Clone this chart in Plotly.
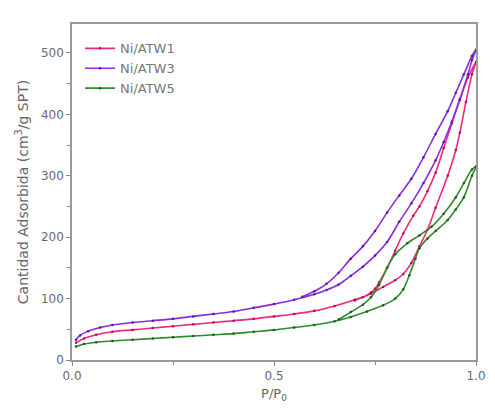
import plotly.graph_objects as go

# Ni/ATW1 (pink)
atw1_ads_x = [0.01,0.03,0.06,0.1,0.15,0.2,0.25,0.3,0.35,0.4,0.45,0.5,0.55,0.6,0.65,0.7,0.74,0.77,0.8,0.82,0.84,0.86,0.88,0.9,0.93,0.95,0.96,0.975,0.99,1.0]
atw1_ads_y = [28,35,41,46,49,52,55,58,61,64,67,71,75,80,88,98,108,119,130,140,158,185,212,248,300,342,370,420,465,485]
atw1_des_x = [0.98,0.96,0.94,0.92,0.9,0.88,0.86,0.845,0.82,0.8,0.78,0.76,0.75,0.74,0.72,0.7]
atw1_des_y = [460,423,385,345,305,275,250,235,206,178,150,126,116,110,102,97]

# Ni/ATW3 (purple)
atw3_ads_x = [0.01,0.02,0.04,0.07,0.1,0.15,0.2,0.25,0.3,0.35,0.4,0.45,0.5,0.55,0.6,0.63,0.66,0.69,0.72,0.75,0.78,0.81,0.84,0.87,0.9,0.92,0.94,0.96,0.98,0.99,1.0]
atw3_ads_y = [33,40,47,53,57,61,64,67,71,75,79,85,91,98,107,114,123,137,152,170,192,225,255,288,325,355,388,425,465,488,505]
atw3_des_x = [0.99,0.97,0.95,0.93,0.9,0.87,0.84,0.81,0.78,0.75,0.72,0.69,0.66,0.63,0.6,0.57]
atw3_des_y = [495,465,435,405,368,330,295,268,240,210,185,165,142,124,112,103]

# Ni/ATW5 (green)
atw5_ads_x = [0.01,0.03,0.06,0.1,0.15,0.2,0.25,0.3,0.35,0.4,0.45,0.5,0.55,0.6,0.65,0.69,0.73,0.77,0.8,0.82,0.835,0.85,0.86,0.88,0.9,0.93,0.95,0.97,0.99,1.0]
atw5_ads_y = [22,26,29,31,33,35,37,39,41,43,46,49,53,57,63,70,79,89,100,115,138,165,182,198,210,228,245,265,300,315]
atw5_des_x = [0.99,0.97,0.95,0.92,0.89,0.86,0.83,0.8,0.78,0.76,0.74,0.72,0.69,0.66]
atw5_des_y = [310,288,265,238,217,203,190,172,150,122,102,90,78,66]

series = [
    ("Ni/ATW1", atw1_ads_x, atw1_ads_y, atw1_des_x, atw1_des_y, "#F0287E", "#A8105A"),
    ("Ni/ATW3", atw3_ads_x, atw3_ads_y, atw3_des_x, atw3_des_y, "#8A2BE2", "#561A9E"),
    ("Ni/ATW5", atw5_ads_x, atw5_ads_y, atw5_des_x, atw5_des_y, "#2E8B2E", "#1A5A1A"),
]

fig = go.Figure()
for name, ax, ay, dx, dy, col, mcol in series:
    fig.add_trace(go.Scatter(
        x=ax + dx, y=ay + dy, name=name, mode="lines+markers",
        line=dict(color=col, width=1.6, shape="spline", smoothing=0.9),
        marker=dict(color=mcol, size=2.5),
    ))

font = "DejaVu Sans, Liberation Sans, Arial, sans-serif"
fig.update_layout(
    width=479, height=395,
    margin=dict(l=64, r=1, t=16, b=43),
    paper_bgcolor="white", plot_bgcolor="white",
    font=dict(family=font, size=12, color="#6a6a6a"),
    showlegend=True,
    legend=dict(x=0.02, y=0.972, xanchor="left", yanchor="top",
                bgcolor="rgba(0,0,0,0)", font=dict(size=13, color="#777"),
                itemwidth=30, tracegroupgap=0),
    xaxis=dict(range=[0, 1], tickvals=[0, 0.5, 1.0], ticktext=["0.0", "0.5", "1.0"],
               showgrid=False, zeroline=False, showline=True, linecolor="#999",
               linewidth=1.5, mirror=True, ticks="outside", ticklen=4,
               tickcolor="#888", ticklabeloverflow="allow",
               minor=dict(tickvals=[0.25, 0.75], ticks="outside", ticklen=3, tickcolor="#888"),
               title=dict(text="P/P<sub>0</sub>", font=dict(size=13, color="#666"), standoff=9)),
    yaxis=dict(range=[0, 547], tickvals=[0, 100, 200, 300, 400, 500],
               showgrid=False, zeroline=True, zerolinecolor="#444", zerolinewidth=1.3,
               showline=True, linecolor="#999",
               linewidth=1.5, mirror=True, ticks="outside", ticklen=4,
               tickcolor="#888", ticklabeloverflow="allow",
               minor=dict(tickvals=[50, 150, 250, 350, 450], ticks="outside", ticklen=3, tickcolor="#888"),
               title=dict(text="Cantidad Adsorbida (cm<sup>3</sup>/g SPT)", font=dict(size=14, color="#666"), standoff=9)),
)

fig.write_html("out.html")
